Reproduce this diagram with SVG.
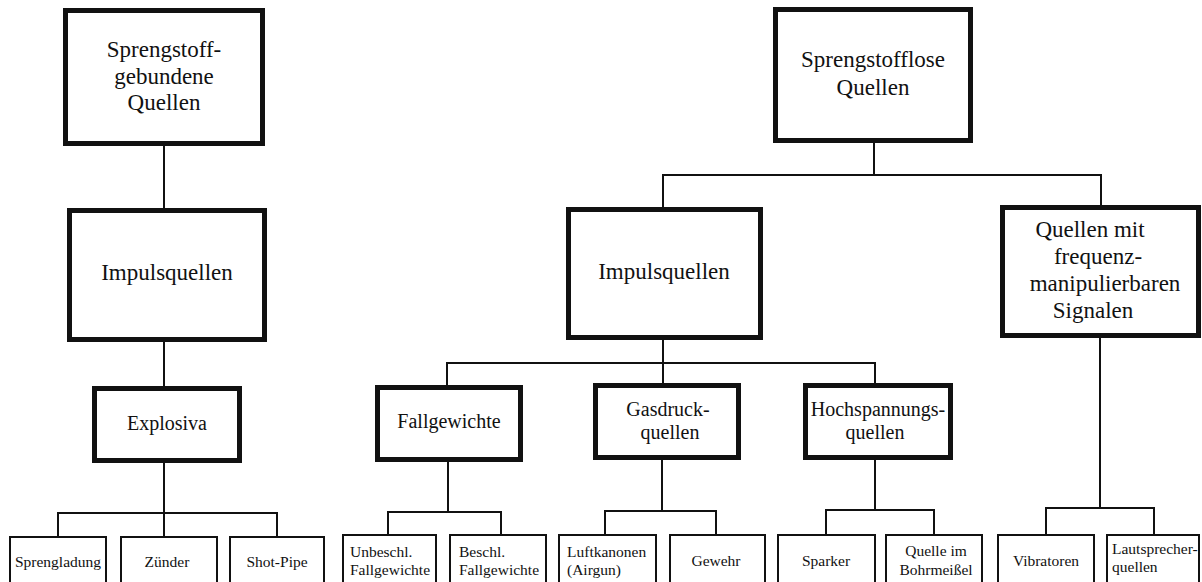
<svg xmlns="http://www.w3.org/2000/svg" width="1202" height="582" viewBox="0 0 1202 582" font-family="'Liberation Serif', 'DejaVu Serif', serif">
<style>
.bg{fill:#fff}
.n1{fill:#fff;stroke:#111;stroke-width:5}
.n3{fill:#fff;stroke:#111;stroke-width:2}
.c{fill:none;stroke:#111;stroke-width:2}
.t1,.t2,.t3,.t3l{font-family:'Liberation Serif','DejaVu Serif',serif;fill:#111}
.t1{font-size:23px;text-anchor:middle}
.t2{font-size:20px;text-anchor:middle}
.t3{font-size:15.5px;text-anchor:middle}
.t3l{font-size:15.5px}
</style>
<rect class="bg" x="0" y="0" width="1202" height="582"/>
<g id="connectors">
<path class="c" d="M164 146V208M164 342V386M164 463V537M58 513H277M58 512V537M277 512V537"/>
<path class="c" d="M874 143V175M663 175H1101M663 174V208M1101 174V206"/>
<path class="c" d="M663 340V384M447 363H875M447 362V386M875 362V384"/>
<path class="c" d="M448 462V512M388 512H501M388 511V535M501 511V535"/>
<path class="c" d="M662 460V511M605 511H716M605 510V535M716 510V535"/>
<path class="c" d="M875 460V510M826 510H934M826 509V535M934 509V535"/>
<path class="c" d="M1100 338V508M1046 508H1154M1046 507V535M1154 507V535"/>
</g>
<g id="n-sprengstoffgebunden"><rect class="n1" x="65.5" y="10.5" width="197" height="133"/>
<text class="t1" x="164" y="57">Sprengstoff-</text><text class="t1" x="164" y="84">gebundene</text><text class="t1" x="164" y="110">Quellen</text></g>
<g id="n-impuls-left"><rect class="n1" x="69.5" y="210.5" width="195" height="129"/>
<text class="t1" x="167" y="280">Impulsquellen</text></g>
<g id="n-explosiva"><rect class="n1" x="94.5" y="388.5" width="145" height="72"/>
<text class="t2" x="167" y="430">Explosiva</text></g>
<g id="n-sprengladung"><rect class="n3" x="10" y="537" width="96" height="60"/><text class="t3" x="58" y="567">Sprengladung</text></g>
<g id="n-zuender"><rect class="n3" x="121" y="537" width="96" height="60"/><text class="t3" x="167" y="567">Zünder</text></g>
<g id="n-shotpipe"><rect class="n3" x="230" y="537" width="94" height="60"/><text class="t3" x="277" y="567">Shot-Pipe</text></g>

<g id="n-sprengstofflos"><rect class="n1" x="775.5" y="9.5" width="195" height="131"/>
<text class="t1" x="873" y="67">Sprengstofflose</text><text class="t1" x="873" y="95">Quellen</text></g>
<g id="n-impuls-right"><rect class="n1" x="568.5" y="209.5" width="192" height="128"/>
<text class="t1" x="664" y="279">Impulsquellen</text></g>
<g id="n-frequenz"><rect class="n1" x="1002.5" y="207.5" width="196" height="128"/>
<text class="t1" x="1090" y="237">Quellen mit</text><text class="t1" x="1098" y="264">frequenz-</text><text class="t1" x="1105" y="291">manipulierbaren</text><text class="t1" x="1093" y="318">Signalen</text></g>
<g id="n-fallgewichte"><rect class="n1" x="377.5" y="387.5" width="143" height="72"/>
<text class="t2" x="449" y="428">Fallgewichte</text></g>
<g id="n-gasdruck"><rect class="n1" x="595.5" y="385.5" width="143" height="72"/>
<text class="t2" x="668" y="416">Gasdruck-</text><text class="t2" x="670" y="439">quellen</text></g>
<g id="n-hochspannung"><rect class="n1" x="805.5" y="385.5" width="145" height="72"/>
<text class="t2" x="878" y="416">Hochspannungs-</text><text class="t2" x="875" y="439">quellen</text></g>
<g id="n-unbeschl"><rect class="n3" x="343" y="535" width="93" height="60"/><text class="t3l" x="350" y="557">Unbeschl.</text><text class="t3l" x="350" y="575">Fallgewichte</text></g>
<g id="n-beschl"><rect class="n3" x="450" y="535" width="96" height="60"/><text class="t3l" x="459" y="557">Beschl.</text><text class="t3l" x="459" y="575">Fallgewichte</text></g>
<g id="n-luftkanonen"><rect class="n3" x="559" y="535" width="97" height="60"/><text class="t3l" x="567" y="557">Luftkanonen</text><text class="t3l" x="567" y="575">(Airgun)</text></g>
<g id="n-gewehr"><rect class="n3" x="670" y="535" width="95" height="60"/><text class="t3" x="716" y="566">Gewehr</text></g>
<g id="n-sparker"><rect class="n3" x="778" y="535" width="97" height="60"/><text class="t3" x="826" y="566">Sparker</text></g>
<g id="n-bohrmeissel"><rect class="n3" x="886" y="535" width="96" height="60"/><text class="t3" x="936" y="556">Quelle im</text><text class="t3" x="936" y="575">Bohrmeißel</text></g>
<g id="n-vibratoren"><rect class="n3" x="998" y="535" width="96" height="60"/><text class="t3" x="1046" y="566">Vibratoren</text></g>
<g id="n-lautsprecher"><rect class="n3" x="1107" y="535" width="92" height="60"/><text class="t3l" x="1112" y="554">Lautsprecher-</text><text class="t3l" x="1112" y="572">quellen</text></g>
</svg>
